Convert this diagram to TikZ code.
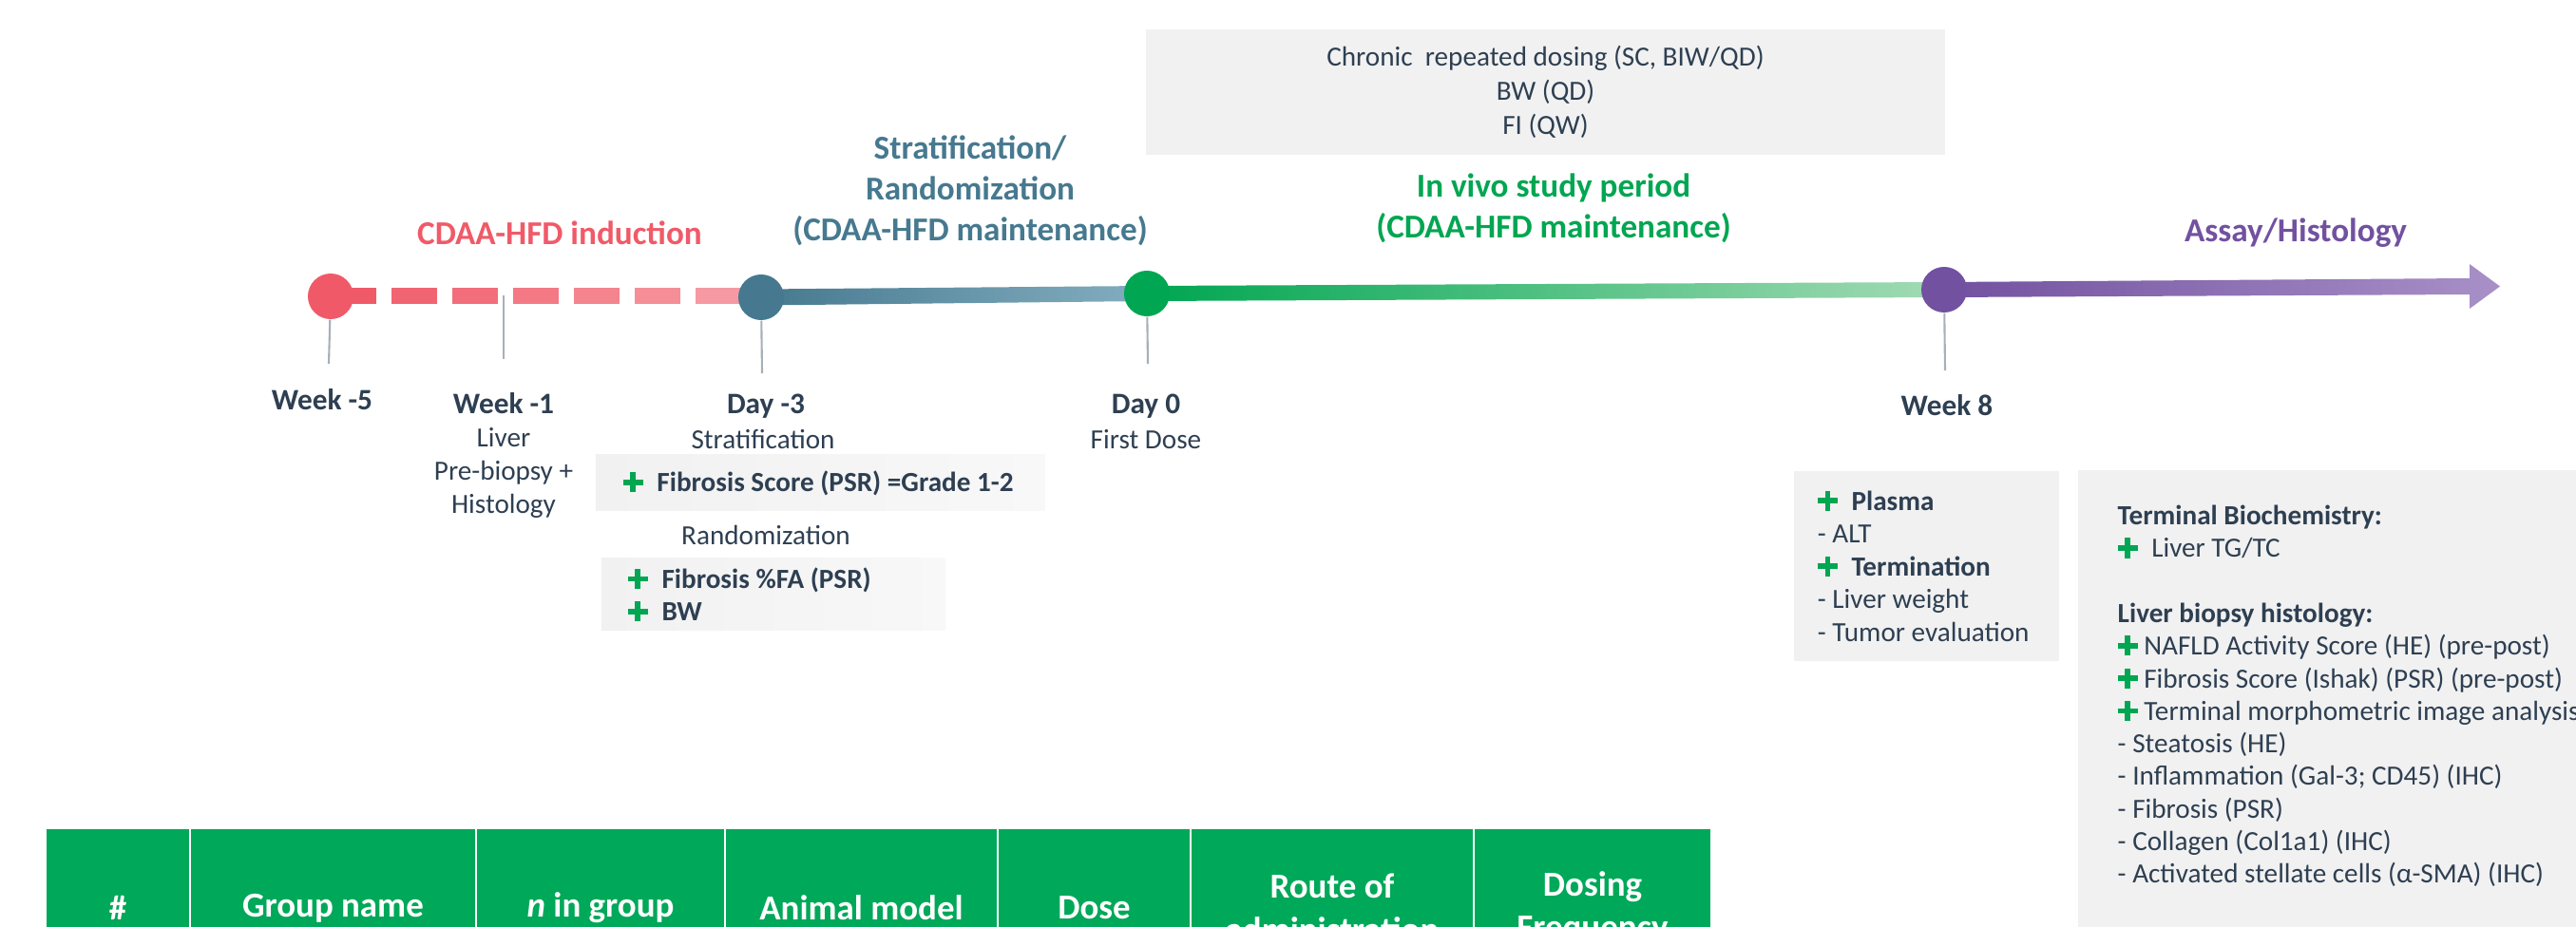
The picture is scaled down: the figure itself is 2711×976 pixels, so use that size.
\documentclass[tikz,border=0pt]{standalone}
\usepackage{fontspec}
\setmainfont{Carlito}
\usepackage{xcolor}
\usetikzlibrary{calc,positioning,backgrounds}
\definecolor{Coral}{HTML}{F05A68}
\definecolor{CoralPale}{HTML}{F7A3AB}
\definecolor{Teal}{HTML}{46798F}
\definecolor{TealPale}{HTML}{84AEC0}
\definecolor{Leaf}{HTML}{00A651}
\definecolor{LeafPale}{HTML}{A3DBB5}
\definecolor{Plum}{HTML}{7251A0}
\definecolor{PlumPale}{HTML}{A890C7}
\definecolor{Ink}{HTML}{2E3F52}
\definecolor{Tick}{HTML}{A7B0B7}
\definecolor{Panel}{HTML}{F1F1F1}
\definecolor{PanelFade}{HTML}{F8F8F8}
\definecolor{TableGreen}{HTML}{00A859}
\definecolor{PlusGreen}{HTML}{00A651}
\newcommand{\gplus}{\textcolor{PlusGreen}{\rlap{\rule[0.24em]{0.72em}{0.2em}}\hspace{0.26em}\rule[-0.02em]{0.2em}{0.72em}\hspace{0.26em}}}
\tikzset{milestone/.style={circle,inner sep=0pt,minimum size=0.48cm},tick/.style={draw=Tick,line width=0.6pt},phase/.style={font=\fontsize{10}{12.2}\selectfont\bfseries,align=center},when/.style={font=\fontsize{8.9}{10.8}\selectfont\bfseries,text=Ink},note/.style={font=\fontsize{8.3}{10}\selectfont,text=Ink,align=center},panel/.style={fill=Panel,inner sep=0pt,text=Ink,font=\fontsize{8.3}{9.8}\selectfont},fadepanel/.style={panel,left color=Panel,right color=PanelFade},boxtext/.style={anchor=west,inner sep=0pt,align=left,text=Ink,font=\fontsize{8.3}{9.8}\selectfont},headcell/.style={fill=TableGreen,draw=white,line width=0.6pt,text=white,font=\fontsize{10.5}{13}\selectfont\bfseries,align=center,minimum height=1.68cm,inner sep=0pt}}

\begin{document}
\begin{tikzpicture}[x=0.01cm,y=-0.01cm]
\useasboundingbox (0,0) rectangle (2711,976);
\node[milestone,fill=Coral] (wk5) at (348,312) {};\node[milestone,fill=Teal] (d3) at (801,313) {};\node[milestone,fill=Leaf] (d0) at (1207,309) {};\node[milestone,fill=Plum] (wk8) at (2046,305) {};
\coordinate (wk5foot) at (346,383);\coordinate (wk1) at (530,311);\coordinate (wk1foot) at (530,378);\coordinate (d3foot) at (802,393);\coordinate (d0foot) at (1208,383);\coordinate (wk8foot) at (2047,390);\coordinate (tip) at (2631,301.5);
\begin{pgfonlayer}{background}
\fill[Coral] ($(wk5.center)+(0,-8.5)$) rectangle +(48,17);\fill[CoralPale!14!Coral] ($(wk5.center)+(64,-8.5)$) rectangle +(48,17);\fill[CoralPale!28!Coral] ($(wk5.center)+(128,-8.5)$) rectangle +(48,17);\fill[CoralPale!43!Coral] ($(wk5.center)+(192,-8.5)$) rectangle +(48,17);
\fill[CoralPale!57!Coral] ($(wk5.center)+(256,-8.5)$) rectangle +(48,17);\fill[CoralPale!71!Coral] ($(wk5.center)+(320,-8.5)$) rectangle +(48,17);\fill[CoralPale!86!Coral] ($(wk5.center)+(384,-8.5)$) rectangle +(48,17);
\shade[left color=Teal,right color=TealPale] ($(d3.center)+(0,-8.5)$) -- ($(d0.center)+(0,-8)$) -- ($(d0.center)+(0,8)$) -- ($(d3.center)+(0,8.5)$) -- cycle;
\shade[left color=Leaf,right color=LeafPale] ($(d0.center)+(0,-8)$) -- ($(wk8.center)+(0,-8)$) -- ($(wk8.center)+(0,8)$) -- ($(d0.center)+(0,8)$) -- cycle;
\shade[left color=Plum,right color=PlumPale] ($(wk8.center)+(0,-8)$) -- ($(tip)+(-32,-8.5)$) -- ($(tip)+(-32,-23.5)$) -- (tip) -- ($(tip)+(-32,23.5)$) -- ($(tip)+(-32,8.5)$) -- ($(wk8.center)+(0,8)$) -- cycle;
\draw[tick] (wk5) -- (wk5foot);\draw[tick] (wk1) -- (wk1foot);\draw[tick] (d3) -- (d3foot);\draw[tick] (d0) -- (d0foot);\draw[tick] (wk8) -- (wk8foot);
\end{pgfonlayer}
% phases above the line
\node[phase,text=Coral] (induction) at (589,245) {CDAA-HFD induction};
\node[phase,text=Teal] (stratphase) at (1021,201) {Stratification/\\Randomization\\(CDAA-HFD maintenance)};
\node[phase,text=Leaf] (invivo) at (1635,219) {In vivo study period\\(CDAA-HFD maintenance)};
\node[phase,text=Plum] (assay) at (2416,245) {Assay/Histology};
\node[panel,align=center,minimum width=8.41cm,minimum height=1.32cm,font=\fontsize{8.3}{10.2}\selectfont] (dosing) at (1626.5,97) {Chronic\ \ repeated dosing (SC, BIW/QD)\\BW (QD)\\FI (QW)};
% time points
\node[when] (wk5lab) at (339,421) {Week -5};\node[when] (wk1lab) at (530,425) {Week -1};\node[when] (d3lab) at (806,428) {Day -3};\node[when] (d0lab) at (1206,428) {Day 0};\node[when] (wk8lab) at (2049,427) {Week 8};
\node[note] (wk1note) at (530,498) {Liver\\Pre-biopsy +\\Histology};\node[note] (d3note) at (803,463) {Stratification};\node[note] (randlab) at (806,563) {Randomization};\node[note] (d0note) at (1206,463) {First Dose};
% read-out panels
\node[fadepanel,minimum width=4.73cm,minimum height=0.58cm] (stratbox) at (863.5,508) {};
\node[boxtext] (strattext) at ($(stratbox.west)+(29,1)$) {\gplus\enspace\textbf{Fibrosis Score (PSR) =Grade 1-2}};
\node[fadepanel,minimum width=3.62cm,minimum height=0.75cm] (randbox) at (814,625.5) {};
\node[boxtext,font=\fontsize{8.3}{9.7}\selectfont] (randtext) at ($(randbox.west)+(28,0.5)$) {\gplus\enspace\textbf{Fibrosis \%FA (PSR)}\\\gplus\enspace\textbf{BW}};
\node[panel,minimum width=2.79cm,minimum height=2cm] (endbox) at (2027.5,596) {};
\node[boxtext] (endtext) at ($(endbox.west)+(25,0)$) {\gplus\enspace\textbf{Plasma}\\- ALT\\\gplus\enspace\textbf{Termination}\\- Liver weight\\- Tumor evaluation};
\node[panel,minimum width=6.13cm,minimum height=4.85cm] (histbox) at (2493.5,737.5) {};
\node[boxtext,font=\fontsize{8.3}{9.75}\selectfont] (histtext) at (2228,733) {\textbf{Terminal Biochemistry:}\\\gplus\enspace Liver TG/TC\\[9.75pt]\textbf{Liver biopsy histology:}\\\gplus{} NAFLD Activity Score (HE) (pre-post)\\\gplus{} Fibrosis Score (Ishak) (PSR) (pre-post)\\\gplus{} Terminal morphometric image analysis:\\- Steatosis (HE)\\- Inflammation (Gal-3; CD45) (IHC)\\- Fibrosis (PSR)\\- Collagen (Col1a1) (IHC)\\- Activated stellate cells (α-SMA) (IHC)};
% group table header
\node[headcell,minimum width=1.52cm] (hnum) at (124,956) {\#};\node[headcell,minimum width=3.01cm] (hgroup) at (350.5,956) {Group name};\node[headcell,minimum width=2.62cm] (hsize) at (632,956) {\textit{n} in group};\node[headcell,minimum width=2.87cm] (hmodel) at (906.5,956) {Animal model};
\node[headcell,minimum width=2.03cm] (hdose) at (1151.5,956) {Dose};\node[headcell,minimum width=2.98cm] (hroute) at (1402,956) {Route of\\administration};\node[headcell,minimum width=2.50cm] (hfreq) at (1676,956) {Dosing\\Frequency};
\end{tikzpicture}
\end{document}
